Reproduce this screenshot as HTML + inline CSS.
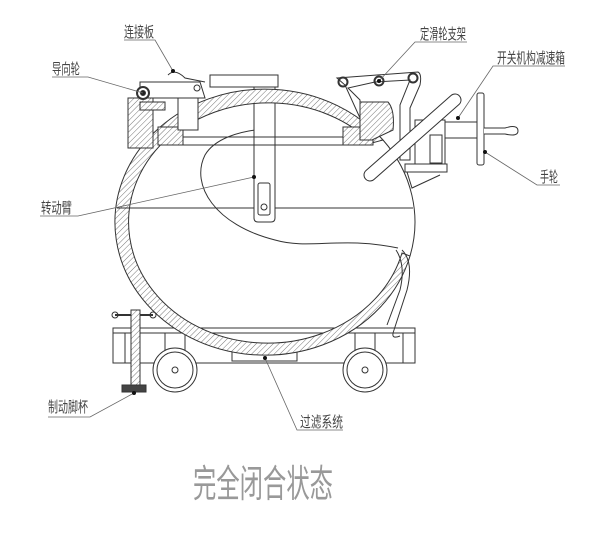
<!DOCTYPE html>
<html><head><meta charset="utf-8"><style>
html,body{margin:0;padding:0;background:#fff;}
svg{display:block;}
text{font-family:"Liberation Sans","Noto Sans CJK SC",sans-serif;fill:#444;}
</style></head><body>
<svg width="600" height="533" viewBox="0 0 600 533" xmlns="http://www.w3.org/2000/svg">
<defs>
<pattern id="h" width="4" height="4" patternUnits="userSpaceOnUse" patternTransform="rotate(45)">
<rect width="4" height="4" fill="#fff"/><line x1="0" y1="0" x2="0" y2="4" stroke="#777" stroke-width="1"/>
</pattern>
</defs>
<g stroke="#333" stroke-width="1" fill="none">
<!-- frame -->
<rect x="113" y="328" width="302" height="35" fill="#fff"/>
<line x1="113" y1="333" x2="415" y2="333"/>
<line x1="125" y1="333" x2="125" y2="363"/>
<line x1="403" y1="333" x2="403" y2="363"/>
<!-- wheels -->
<rect x="165" y="333" width="20" height="37" fill="#fff"/>
<circle cx="175" cy="370" r="22" fill="#fff"/><circle cx="175" cy="370" r="18"/><circle cx="175" cy="370" r="3"/>
<rect x="355" y="333" width="20" height="37" fill="#fff"/>
<circle cx="365" cy="370" r="22" fill="#fff"/><circle cx="365" cy="370" r="18"/><circle cx="365" cy="370" r="3"/>
<!-- filter -->
<rect x="232" y="352" width="65" height="9" fill="#fff"/>
<!-- shell ring -->
<path d="M159,128 A150,133 0 1 0 410,256 L402,253 A139,121 0 1 1 170,136 Z" fill="url(#h)"/>
<path d="M410,256 A150,133 0 0 0 383,140"/>
<!-- horizontal line -->
<line x1="117" y1="208" x2="413" y2="208"/>
<!-- teardrop -->
<path d="M398,248 C340,236 310,250 275,240 C215,225 190,185 205,155 C215,138 240,132 255,130"/>
<!-- arm -->
<path d="M254,86 L254,218 Q254,222 258,222 L271,222 Q275,222 275,218 L275,86" fill="#fff"/>
<rect x="258" y="183" width="12" height="32" rx="2"/>
<circle cx="264" cy="207" r="3"/>
<!-- top lid arc -->
<path d="M159,128 A150,133 0 0 1 383,140 L372,143 A139,120 0 0 0 170,138 Z" fill="url(#h)"/>
<!-- top blocks -->
<rect x="210" y="75" width="68" height="12" fill="#fff"/>
<rect x="128" y="98" width="25" height="50" fill="url(#h)"/>
<rect x="140" y="102" width="25" height="8" fill="url(#h)"/>
<rect x="158" y="127" width="25" height="18" fill="url(#h)"/>
<rect x="183" y="137" width="160" height="8"/>
<rect x="343" y="127" width="30" height="18" fill="url(#h)"/>
<path d="M360,102 L388,102 Q395,110 393,130 L372,140 L360,140 Z" fill="url(#h)"/>
<!-- connecting plate -->
<path d="M140,82 L200,82 L205,98 L140,98 Z" fill="#fff"/>
<path d="M168,75 Q175,68 185,78 L205,82" />
<circle cx="197" cy="88" r="3"/>
<circle cx="143" cy="93" r="6" fill="#fff" stroke-width="2"/><circle cx="143" cy="93" r="2.5" fill="#222"/>
<rect x="178" y="98" width="20" height="32" fill="#fff"/>
<!-- right bracket -->
<path d="M337,78 L418,72 Q422,74 420,85 L410,108 L410,160 L400,160 L400,105 L410,80 L375,82 L348,88 L360,100 L360,118 L345,85 Z" fill="#fff"/>
<circle cx="343" cy="82" r="4.5" stroke-width="2"/><circle cx="379" cy="81" r="4.5" stroke-width="2"/><circle cx="413" cy="78" r="4.5" stroke-width="2"/>
<!-- gearbox -->
<rect x="415" y="120" width="30" height="45" fill="#fff"/>
<rect x="430" y="135" width="12" height="28"/>
<rect x="405" y="164" width="42" height="8" fill="#fff"/>
<path d="M407,172 L412,188 L440,175"/>
<!-- diagonal handle -->
<path d="M370,175 L455,100" stroke-width="13" stroke-linecap="round" stroke="#333"/>
<path d="M370,175 L455,100" stroke-width="11" stroke-linecap="round" stroke="#fff"/>
<!-- handwheel -->
<rect x="445" y="122" width="32" height="16" fill="#fff"/>
<rect x="477" y="93" width="7" height="72" rx="2" fill="#fff"/>
<path d="M484,128 L505,128 Q518,124 518,131 Q518,137 505,134 L484,134" fill="#fff"/>
<!-- pipe right -->
<path d="M402,250 Q414,262 407,290 L394,330 Q390,340 400,336"/>
<path d="M396,250 Q406,265 400,290 L387,325"/>
<!-- brake -->
<line x1="115" y1="315" x2="153" y2="315" stroke-width="2"/>
<circle cx="115" cy="315" r="3"/><circle cx="153" cy="315" r="3"/>
<rect x="131" y="310" width="9" height="78" fill="url(#h)"/>
<rect x="122" y="385" width="24" height="7" fill="#444"/>
<!-- leader lines -->
<g stroke="#666" stroke-width="0.8">
<polyline points="124,40 155,40 173,71"/>
<polyline points="52,77 88,77 143,93"/>
<polyline points="40,216 78,216 254,177"/>
<polyline points="467,42 415,42 379,81"/>
<polyline points="565,66 493,66 458,118"/>
<polyline points="560,185 537,185 485,152"/>
<polyline points="48,417 90,417 134,393"/>
<polyline points="343,430 297,430 265,358"/>
</g>
</g>
<g fill="#111">
<circle cx="173" cy="71" r="2"/><circle cx="254" cy="177" r="2"/><circle cx="379" cy="81" r="2"/>
<circle cx="458" cy="118" r="2"/><circle cx="485" cy="152" r="2"/><circle cx="134" cy="393" r="2"/><circle cx="265" cy="358" r="2"/>
</g>
<g font-size="15">
<text x="124" y="37" textLength="30" lengthAdjust="spacingAndGlyphs">连接板</text>
<text x="52" y="74" textLength="28" lengthAdjust="spacingAndGlyphs">导向轮</text>
<text x="41" y="213" textLength="31" lengthAdjust="spacingAndGlyphs">转动臂</text>
<text x="420" y="39" textLength="46" lengthAdjust="spacingAndGlyphs">定滑轮支架</text>
<text x="497" y="63" textLength="68" lengthAdjust="spacingAndGlyphs">开关机构减速箱</text>
<text x="540" y="182" textLength="18" lengthAdjust="spacingAndGlyphs">手轮</text>
<text x="48" y="412" textLength="40" lengthAdjust="spacingAndGlyphs">制动脚杯</text>
<text x="300" y="427" textLength="43" lengthAdjust="spacingAndGlyphs">过滤系统</text>
</g>
<text x="193" y="497" font-size="38" textLength="140" lengthAdjust="spacingAndGlyphs" style="fill:#999;font-weight:normal">完全闭合状态</text>
</svg>
</body></html>
